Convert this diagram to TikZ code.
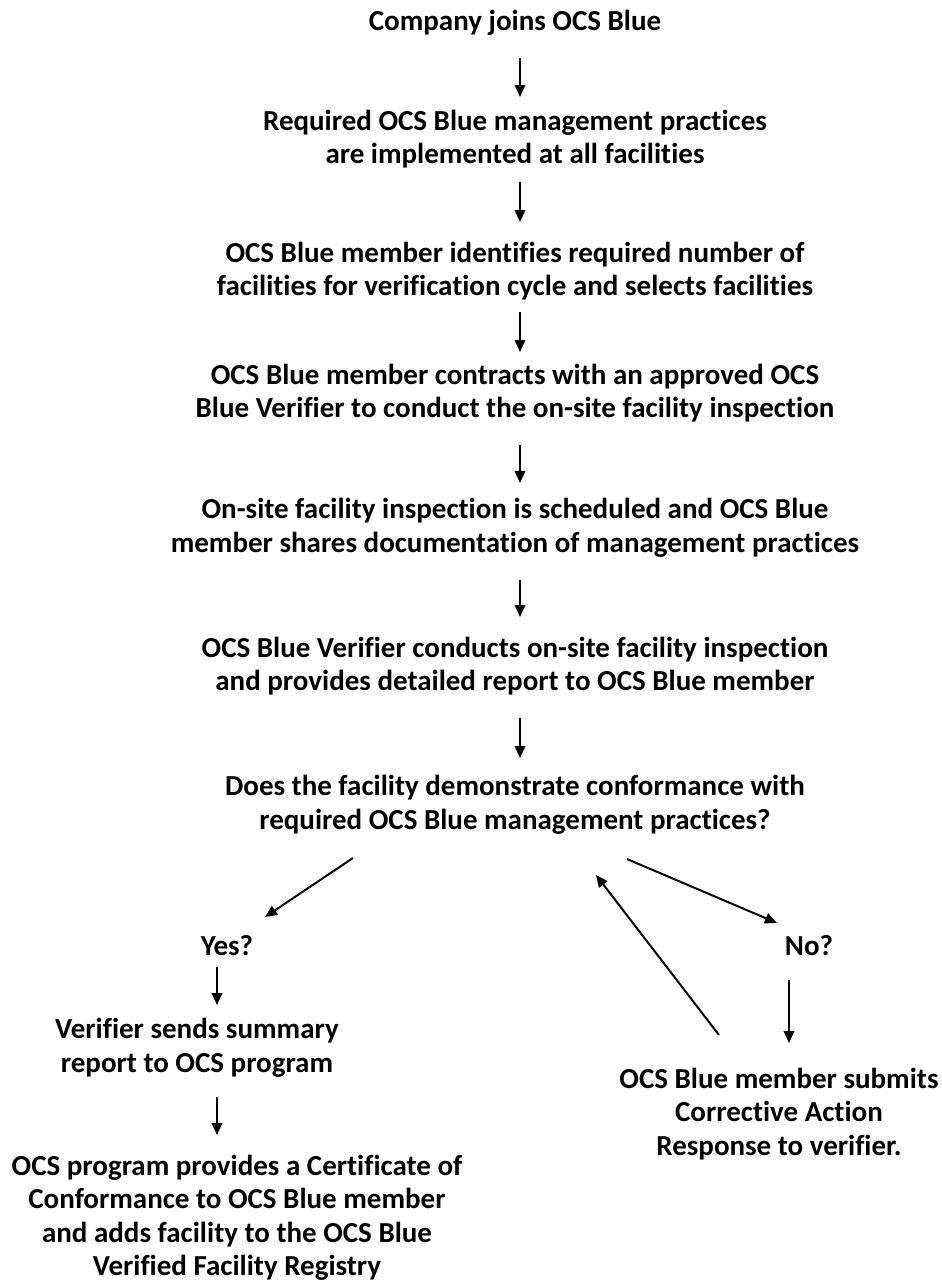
\documentclass[tikz,border=0pt]{standalone}
\usepackage{fontspec}
\setmainfont{Carlito}[Ligatures={NoCommon,NoRare,NoContextual}]
\usetikzlibrary{arrows.meta}
\begin{document}
\begin{tikzpicture}[x=1pt,y=-1pt,
  txt/.style={font=\fontsize{29}{33.5}\selectfont\bfseries, align=center, inner sep=0pt},
  arr/.style={line width=2pt, -{Triangle[length=12pt,width=10.5pt]}}]
\fill[white] (0,0) rectangle (942,1283);
\useasboundingbox (0,0) rectangle (942,1283);
\node[txt] (n1) at (515,23) {Company joins OCS Blue};
\node[txt] (n2) at (515,139) {Required OCS Blue management practices\\are implemented at all facilities};
\node[txt] (n3) at (515,271) {OCS Blue member identifies required number of\\facilities for verification cycle and selects facilities};
\node[txt] (n4) at (515,393) {OCS Blue member contracts with an approved OCS\\Blue Verifier to conduct the on-site facility inspection};
\node[txt] (n5) at (515,528) {On-site facility inspection is scheduled and OCS Blue\\member shares documentation of management practices};
\node[txt] (n6) at (515,666) {OCS Blue Verifier conducts on-site facility inspection\\and provides detailed report to OCS Blue member};
\node[txt] (n7) at (515,805) {Does the facility demonstrate conformance with\\required OCS Blue management practices?};
\node[txt] (yes) at (227,946) {Yes?};
\node[txt] (v) at (197,1048) {Verifier sends summary\\report to OCS program};
\node[txt] (cert) at (237,1218) {OCS program provides a Certificate of\\Conformance to OCS Blue member\\and adds facility to the OCS Blue\\Verified Facility Registry};
\node[txt] (no) at (809,946) {No?};
\node[txt] (cor) at (779,1114) {OCS Blue member submits\\Corrective Action\\Response to verifier.};

\draw[arr] ([shift={(5,35)}]n1.center) -- ([shift={(5,-42)}]n2.center);
\draw[arr] ([shift={(5,43)}]n2.center) -- ([shift={(5,-49)}]n3.center);
\draw[arr] ([shift={(5,41)}]n3.center) -- ([shift={(5,-41)}]n4.center);
\draw[arr] ([shift={(5,52)}]n4.center) -- ([shift={(5,-45)}]n5.center);
\draw[arr] ([shift={(5,52)}]n5.center) -- ([shift={(5,-49)}]n6.center);
\draw[arr] ([shift={(5,52)}]n6.center) -- ([shift={(5,-47)}]n7.center);
\draw[arr] ([shift={(-162,53)}]n7.center) -- ([shift={(38,-29)}]yes.center);
\draw[arr] ([shift={(112,54)}]n7.center) -- ([shift={(-32,-23)}]no.center);
\draw[arr] ([shift={(-60,-79)}]cor.center) -- ([shift={(81,70)}]n7.center);
\draw[arr] ([shift={(-10,21)}]yes.center) -- ([shift={(20,-43)}]v.center);
\draw[arr] ([shift={(20,49)}]v.center) -- ([shift={(-20,-83)}]cert.center);
\draw[arr] ([shift={(-20,34)}]no.center) -- ([shift={(10,-71)}]cor.center);
\end{tikzpicture}
\end{document}
